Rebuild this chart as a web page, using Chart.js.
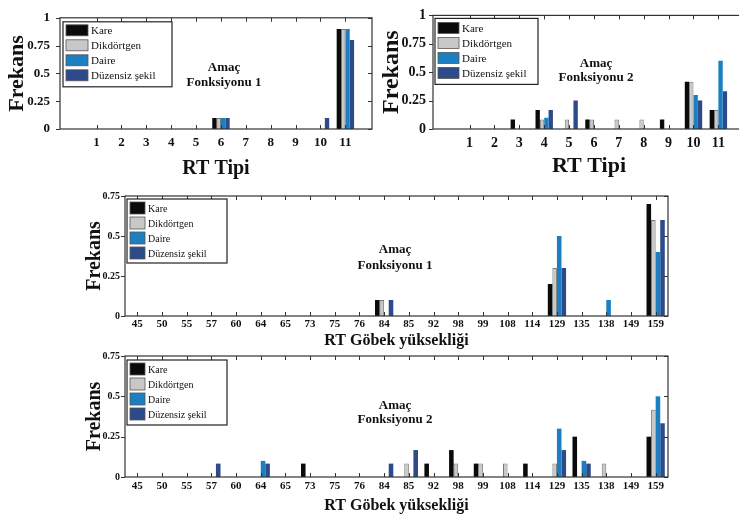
<!DOCTYPE html>
<html>
<head>
<meta charset="utf-8">
<script src="https://cdn.jsdelivr.net/npm/chart.js@4.4.1/dist/chart.umd.min.js"></script>
<style>
  body { margin: 0; width: 739px; height: 517px; overflow: hidden; background: #fff; position: relative; }
  canvas { position: absolute; }
</style>
</head>
<body>
<canvas id="tipi1" width="376" height="185" style="left:0;top:0"></canvas>
<canvas id="tipi2" width="380" height="185" style="left:372px;top:0"></canvas>
<canvas id="gobek1" width="600" height="170" style="left:80px;top:185px"></canvas>
<canvas id="gobek2" width="600" height="172" style="left:80px;top:345px"></canvas>
<script>
const rtTipi = [1, 2, 3, 4, 5, 6, 7, 8, 9, 10, 11];
const gobekYuksekligi = ['45', '50', '55', '57', '60', '64', '65', '73', '75', '76', '84',
  '85', '92', '98', '99', '108', '114', '129', '135', '138', '149', '159'];
const seriesNames = ['Kare', 'Dikdörtgen', 'Daire', 'Düzensiz şekil'];
const seriesColors = ['#0a0a0a', '#c8c8c8', '#1b7fc2', '#2d4a8a'];
const tipiTicks = [0, 0.25, 0.5, 0.75, 1];
const gobekTicks = [0, 0.25, 0.5, 0.75];
const note1 = ['Amaç', 'Fonksiyonu 1'];
const note2 = ['Amaç', 'Fonksiyonu 2'];

// RT tipi, amac fonksiyonu 1
const tipiKare1 = [0, 0, 0, 0, 0, 0.1, 0, 0, 0, 0, 0.9];
const tipiDikd1 = [0, 0, 0, 0, 0, 0.1, 0, 0, 0, 0, 0.9];
const tipiDaire1 = [0, 0, 0, 0, 0, 0.1, 0, 0, 0, 0, 0.9];
const tipiDuz1 = [0, 0, 0, 0, 0, 0.1, 0, 0, 0, 0.1, 0.8];
// RT tipi, amac fonksiyonu 2
const tipiKare2 = [0, 0, 0.083, 0.167, 0, 0.083, 0, 0, 0.083, 0.417, 0.167];
const tipiDikd2 = [0, 0, 0, 0.083, 0.083, 0.083, 0.083, 0.083, 0, 0.417, 0.167];
const tipiDaire2 = [0, 0, 0, 0.1, 0, 0, 0, 0, 0, 0.3, 0.6];
const tipiDuz2 = [0, 0, 0, 0.167, 0.25, 0, 0, 0, 0, 0.25, 0.333];
// RT gobek yuksekligi, amac fonksiyonu 1
const gobekKare1 = [0, 0, 0, 0, 0, 0, 0, 0, 0, 0, 0.1, 0, 0, 0, 0, 0, 0, 0.2, 0, 0, 0, 0.7];
const gobekDikd1 = [0, 0, 0, 0, 0, 0, 0, 0, 0, 0, 0.1, 0, 0, 0, 0, 0, 0, 0.3, 0, 0, 0, 0.6];
const gobekDaire1 = [0, 0, 0, 0, 0, 0, 0, 0, 0, 0, 0, 0, 0, 0, 0, 0, 0, 0.5, 0, 0.1, 0, 0.4];
const gobekDuz1 = [0, 0, 0, 0, 0, 0, 0, 0, 0, 0, 0.1, 0, 0, 0, 0, 0, 0, 0.3, 0, 0, 0, 0.6];
// RT gobek yuksekligi, amac fonksiyonu 2
const gobekKare2 = [0, 0, 0, 0, 0, 0, 0, 0.083, 0, 0, 0, 0, 0.083, 0.167, 0.083, 0, 0.083, 0, 0.25, 0, 0, 0.25];
const gobekDikd2 = [0, 0, 0, 0, 0, 0, 0, 0, 0, 0, 0, 0.083, 0, 0.083, 0.083, 0.083, 0, 0.083, 0, 0.083, 0, 0.417];
const gobekDaire2 = [0, 0, 0, 0, 0, 0.1, 0, 0, 0, 0, 0, 0, 0, 0, 0, 0, 0, 0.3, 0.1, 0, 0, 0.5];
const gobekDuz2 = [0, 0, 0, 0.083, 0, 0.083, 0, 0, 0, 0, 0.083, 0.167, 0, 0, 0, 0, 0, 0.167, 0.083, 0, 0, 0.333];

Chart.defaults.font.family = '"Liberation Serif", "Times New Roman", serif';
Chart.defaults.color = '#111';

// box with inward ticks, like the original figure
const frame = {
  id: 'frame',
  afterDatasetsDraw(chart) {
    const { ctx, chartArea: a, scales: { x, y } } = chart;
    const line = (x1, y1, x2, y2) => { ctx.beginPath(); ctx.moveTo(x1, y1); ctx.lineTo(x2, y2); ctx.stroke(); };
    ctx.save();
    ctx.strokeStyle = '#333';
    ctx.lineWidth = 1.2;
    ctx.strokeRect(a.left, a.top, a.right - a.left, a.bottom - a.top);
    ctx.lineWidth = 1;
    x.ticks.forEach((t, i) => {
      const px = Math.round(x.getPixelForTick(i)) + 0.5;
      line(px, a.bottom, px, a.bottom - 4);
      line(px, a.top, px, a.top + 4);
    });
    y.ticks.forEach((t, i) => {
      const py = Math.round(y.getPixelForTick(i)) + 0.5;
      line(a.left - 4, py, a.left, py);
      line(a.right - 4, py, a.right, py);
    });
    ctx.restore();
  }
};

const boxLegend = {
  id: 'boxLegend',
  afterDraw(chart, args, o) {
    const { ctx, chartArea: a } = chart;
    const x0 = a.left + o.x, y0 = a.top + o.y;
    ctx.save();
    ctx.fillStyle = '#fff';
    ctx.fillRect(x0, y0, o.w, o.h);
    ctx.strokeStyle = '#222';
    ctx.lineWidth = 1.2;
    ctx.strokeRect(x0, y0, o.w, o.h);
    ctx.font = o.size + 'px "Liberation Serif", serif';
    ctx.textBaseline = 'middle';
    chart.data.datasets.forEach((ds, i) => {
      const sy = y0 + o.first + i * o.step;
      ctx.fillStyle = ds.backgroundColor;
      ctx.fillRect(x0 + 3, sy, o.sw, o.sh);
      ctx.strokeStyle = '#555';
      ctx.lineWidth = 0.8;
      ctx.strokeRect(x0 + 3, sy, o.sw, o.sh);
      ctx.fillStyle = '#111';
      ctx.fillText(ds.label, x0 + 3 + o.sw + 3, sy + o.sh / 2 + 1);
    });
    ctx.restore();
  }
};

const note = {
  id: 'note',
  afterDraw(chart, args, o) {
    const { ctx, chartArea: a } = chart;
    ctx.save();
    ctx.font = 'bold 13px "Liberation Serif", serif';
    ctx.fillStyle = '#111';
    ctx.textAlign = 'center';
    ctx.textBaseline = 'middle';
    o.lines.forEach((s, i) => ctx.fillText(s, a.left + o.x, a.top + o.y + i * o.lh));
    ctx.restore();
  }
};

function makeChart(id, o) {
  const linear = !o.labels;
  const datasets = o.series.map((vals, i) => ({
    label: seriesNames[i],
    data: linear ? o.xs.map((v, j) => ({ x: v, y: vals[j] })) : vals,
    backgroundColor: seriesColors[i],
    borderColor: i === 1 ? '#777' : seriesColors[i],
    borderWidth: i === 1 ? 1 : 0,
    barPercentage: 1,
    categoryPercentage: o.group
  }));

  const x = {
    grid: { display: false, drawTicks: false },
    border: { display: false },
    ticks: { font: { size: o.xTick, weight: 'bold' }, padding: o.xTickPad, autoSkip: false, maxRotation: 0 },
    title: { display: true, text: o.xTitle, font: { size: o.xTitleSize, weight: 'bold' }, padding: { top: 0, bottom: o.xTitlePad } },
    afterFit: s => { s.height = o.h - o.area.bottom; }
  };
  if (linear) {
    Object.assign(x, {
      type: 'linear', min: o.xMin, max: o.xMax,
      afterBuildTicks: s => { s.ticks = o.xs.map(v => ({ value: v })); }
    });
    x.ticks.callback = v => String(v);
  }

  const yTicks = o.yTicks;
  const y = {
    min: 0, max: yTicks[yTicks.length - 1],
    afterBuildTicks: s => { s.ticks = yTicks.map(v => ({ value: v })); },
    grid: { display: false, drawTicks: false },
    border: { display: false },
    ticks: { font: { size: o.yTick, weight: 'bold' }, padding: o.yTickPad, callback: v => String(v) },
    title: { display: true, text: 'Frekans', font: { size: o.yTitleSize, weight: 'bold' }, padding: { top: o.yTitlePad, bottom: 0 } },
    afterFit: s => { s.width = o.area.left; }
  };

  return new Chart(document.getElementById(id), {
    type: 'bar',
    data: { labels: o.labels, datasets },
    options: {
      responsive: false,
      animation: false,
      layout: { padding: { left: 0, top: o.area.top, right: o.w - o.area.right, bottom: 0 } },
      scales: { x, y },
      plugins: {
        legend: { display: false },
        tooltip: { enabled: false },
        boxLegend: o.legend,
        note: o.note
      }
    },
    plugins: [frame, boxLegend, note]
  });
}

makeChart('tipi1', {
  w: 376, h: 185, area: { left: 60, top: 10, right: 372, bottom: 129 },
  xs: rtTipi, xMin: 0.1, xMax: 11.5, group: 0.7,
  series: [tipiKare1, tipiDikd1, tipiDaire1, tipiDuz1],
  xTick: 13, xTickPad: 6, xTitle: 'RT Tipi', xTitleSize: 20, xTitlePad: 4,
  yTicks: tipiTicks, yTick: 13, yTickPad: 10, yTitleSize: 22, yTitlePad: 4,
  legend: { x: 3, y: 4, w: 109, h: 65, first: 3, step: 15, sw: 22, sh: 11, size: 11 },
  note: { lines: note1, x: 164, y: 50, lh: 15 }
});

makeChart('tipi2', {
  w: 380, h: 185, area: { left: 61, top: 10, right: 373, bottom: 129 },
  xs: rtTipi, xMin: 0.1, xMax: 11.5, group: 0.7,
  series: [tipiKare2, tipiDikd2, tipiDaire2, tipiDuz2],
  xTick: 14, xTickPad: 6, xTitle: 'RT Tipi', xTitleSize: 22, xTitlePad: 5,
  yTicks: tipiTicks, yTick: 14, yTickPad: 7, yTitleSize: 24, yTitlePad: 5,
  legend: { x: 2, y: 3, w: 103, h: 66, first: 4, step: 15, sw: 21, sh: 11, size: 11 },
  note: { lines: note2, x: 163, y: 48, lh: 14 }
});

makeChart('gobek1', {
  w: 600, h: 170, area: { left: 45, top: 7, right: 588, bottom: 131 },
  labels: gobekYuksekligi, group: 0.74,
  series: [gobekKare1, gobekDikd1, gobekDaire1, gobekDuz1],
  xTick: 11, xTickPad: 2, xTitle: 'RT Göbek yüksekliği', xTitleSize: 16, xTitlePad: 5,
  yTicks: gobekTicks, yTick: 10, yTickPad: 5, yTitleSize: 20, yTitlePad: 3,
  legend: { x: 2, y: 3, w: 100, h: 64, first: 3, step: 15, sw: 15, sh: 12, size: 10 },
  note: { lines: note1, x: 270, y: 54, lh: 16 }
});

makeChart('gobek2', {
  w: 600, h: 172, area: { left: 45, top: 8, right: 588, bottom: 132 },
  labels: gobekYuksekligi, group: 0.74,
  series: [gobekKare2, gobekDikd2, gobekDaire2, gobekDuz2],
  xTick: 11, xTickPad: 3, xTitle: 'RT Göbek yüksekliği', xTitleSize: 16, xTitlePad: 2,
  yTicks: gobekTicks, yTick: 10, yTickPad: 5, yTitleSize: 20, yTitlePad: 3,
  legend: { x: 2, y: 4, w: 100, h: 65, first: 3, step: 15, sw: 15, sh: 12, size: 10 },
  note: { lines: note2, x: 270, y: 50, lh: 14 }
});
</script>
</body>
</html>
